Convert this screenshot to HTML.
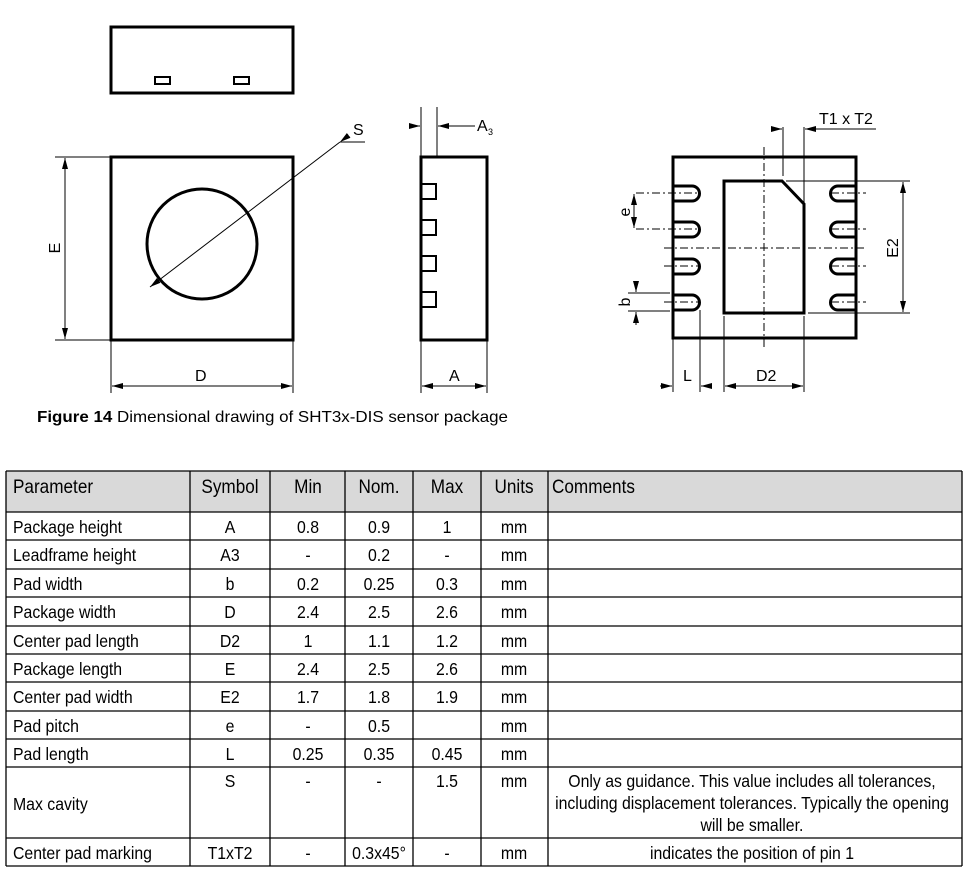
<!DOCTYPE html>
<html><head><meta charset="utf-8"><style>
html,body{margin:0;padding:0;background:#fff;}
svg{display:block;}
.t{font-family:"Liberation Sans",sans-serif;font-size:18px;fill:#000;transform-box:fill-box;transform:scaleX(.88);}
.h{font-size:19.5px;}
.l{transform-origin:left center;}
.c{transform-origin:center center;text-anchor:middle;}
.d{font-family:"Liberation Sans",sans-serif;font-size:16px;fill:#000;}
.th{stroke:#000;stroke-width:3;fill:none;}
.tn{stroke:#000;stroke-width:1;fill:none;}
.dd{stroke:#000;stroke-width:1;fill:none;stroke-dasharray:8,3,2,3;}
</style></head><body>
<svg width="968" height="880" viewBox="0 0 968 880" xmlns="http://www.w3.org/2000/svg">
<defs>
<marker id="a" markerWidth="12" markerHeight="8" refX="11" refY="4" orient="auto" markerUnits="userSpaceOnUse"><path d="M0,1 L11,4 L0,7 Z" fill="#000"/></marker>
</defs>
<rect class="th" x="111" y="27" width="182" height="66"/>
<rect x="155" y="77" width="15" height="7" fill="none" stroke="#000" stroke-width="2"/>
<rect x="234" y="77" width="15" height="7" fill="none" stroke="#000" stroke-width="2"/>
<rect class="th" x="111" y="157" width="182" height="183"/>
<circle class="th" cx="202" cy="244" r="55"/>
<line class="tn" x1="365" y1="142" x2="340" y2="142"/>
<line class="tn" x1="340" y1="142" x2="150" y2="287" marker-start="url(#a)" marker-end="url(#a)"/>
<text class="d" x="353" y="135">S</text>
<line class="tn" x1="55" y1="157" x2="111" y2="157"/>
<line class="tn" x1="55" y1="340" x2="111" y2="340"/>
<line class="tn" x1="65" y1="246" x2="65" y2="158" marker-end="url(#a)"/>
<line class="tn" x1="65" y1="246" x2="65" y2="339" marker-end="url(#a)"/>
<text class="d" transform="translate(60,248) rotate(-90)" text-anchor="middle">E</text>
<line class="tn" x1="111" y1="340" x2="111" y2="393"/>
<line class="tn" x1="293" y1="340" x2="293" y2="393"/>
<line class="tn" x1="202" y1="386" x2="112" y2="386" marker-end="url(#a)"/>
<line class="tn" x1="202" y1="386" x2="292" y2="386" marker-end="url(#a)"/>
<text class="d" x="195" y="381">D</text>
<rect class="th" x="421" y="157" width="66" height="183"/>
<rect x="421" y="184" width="15" height="15" fill="none" stroke="#000" stroke-width="2"/>
<rect x="421" y="220" width="15" height="15" fill="none" stroke="#000" stroke-width="2"/>
<rect x="421" y="256" width="15" height="15" fill="none" stroke="#000" stroke-width="2"/>
<rect x="421" y="292" width="15" height="15" fill="none" stroke="#000" stroke-width="2"/>
<line class="tn" x1="421" y1="107" x2="421" y2="157"/>
<line class="tn" x1="437" y1="107" x2="437" y2="157"/>
<line class="tn" x1="409" y1="126" x2="420" y2="126" marker-end="url(#a)"/>
<line class="tn" x1="475" y1="126" x2="438" y2="126" marker-end="url(#a)"/>
<text class="d" x="477" y="131">A</text><text class="d" x="488" y="135" style="font-size:9px">3</text>
<line class="tn" x1="421" y1="340" x2="421" y2="393"/>
<line class="tn" x1="487" y1="340" x2="487" y2="393"/>
<line class="tn" x1="454" y1="386" x2="422" y2="386" marker-end="url(#a)"/>
<line class="tn" x1="454" y1="386" x2="486" y2="386" marker-end="url(#a)"/>
<text class="d" x="449" y="381">A</text>
<rect class="th" x="673" y="157" width="183" height="181"/>
<path class="th" d="M724,181 H782 L804,204 V313 H724 Z"/>
<g class="th">
<path d="M673,186 H692 A7.5,7.5 0 0 1 692,201 H673"/>
<path d="M673,222 H692 A7.5,7.5 0 0 1 692,237 H673"/>
<path d="M673,259 H692 A7.5,7.5 0 0 1 692,274 H673"/>
<path d="M673,295 H692 A7.5,7.5 0 0 1 692,310 H673"/>
<path d="M856,186 H838 A7.5,7.5 0 0 0 838,201 H856"/>
<path d="M856,222 H838 A7.5,7.5 0 0 0 838,237 H856"/>
<path d="M856,259 H838 A7.5,7.5 0 0 0 838,274 H856"/>
<path d="M856,295 H838 A7.5,7.5 0 0 0 838,310 H856"/>
</g>
<line class="dd" x1="664" y1="248" x2="866" y2="248"/>
<line class="dd" x1="764" y1="147" x2="764" y2="348"/>
<g class="dd">
<line x1="636" y1="193" x2="700" y2="193"/><line x1="636" y1="229" x2="700" y2="229"/>
<line x1="664" y1="266" x2="700" y2="266"/><line x1="664" y1="302" x2="700" y2="302"/>
<line x1="831" y1="193" x2="866" y2="193"/><line x1="831" y1="229" x2="866" y2="229"/>
<line x1="831" y1="266" x2="866" y2="266"/><line x1="831" y1="302" x2="866" y2="302"/>
</g>
<line class="tn" x1="634" y1="211" x2="634" y2="194" marker-end="url(#a)"/>
<line class="tn" x1="634" y1="211" x2="634" y2="228" marker-end="url(#a)"/>
<text class="d" transform="translate(630,212) rotate(-90)" text-anchor="middle">e</text>
<line class="tn" x1="628" y1="293" x2="670" y2="293"/>
<line class="tn" x1="628" y1="311" x2="670" y2="311"/>
<line class="tn" x1="636" y1="281" x2="636" y2="292" marker-end="url(#a)"/>
<line class="tn" x1="636" y1="325" x2="636" y2="312" marker-end="url(#a)"/>
<text class="d" transform="translate(630,302) rotate(-90)" text-anchor="middle">b</text>
<line class="tn" x1="783" y1="127" x2="783" y2="176"/>
<line class="tn" x1="804" y1="127" x2="804" y2="203"/>
<line class="tn" x1="771" y1="129" x2="782" y2="129" marker-end="url(#a)"/>
<line class="tn" x1="876" y1="129" x2="805" y2="129" marker-end="url(#a)"/>
<text class="d" x="819" y="124">T1 x T2</text>
<line class="tn" x1="786" y1="181" x2="910" y2="181"/>
<line class="tn" x1="808" y1="313" x2="910" y2="313"/>
<line class="tn" x1="903" y1="247" x2="903" y2="182" marker-end="url(#a)"/>
<line class="tn" x1="903" y1="247" x2="903" y2="312" marker-end="url(#a)"/>
<text class="d" transform="translate(898,248) rotate(-90)" text-anchor="middle">E2</text>
<line class="tn" x1="673" y1="338" x2="673" y2="392"/>
<line class="tn" x1="700" y1="310" x2="700" y2="392"/>
<line class="tn" x1="724" y1="316" x2="724" y2="392"/>
<line class="tn" x1="804" y1="316" x2="804" y2="392"/>
<line class="tn" x1="660" y1="386" x2="672" y2="386" marker-end="url(#a)"/>
<line class="tn" x1="712" y1="386" x2="701" y2="386" marker-end="url(#a)"/>
<text class="d" x="683" y="381">L</text>
<line class="tn" x1="764" y1="386" x2="725" y2="386" marker-end="url(#a)"/>
<line class="tn" x1="764" y1="386" x2="803" y2="386" marker-end="url(#a)"/>
<text class="d" x="756" y="381">D2</text>
<text x="37" y="422" font-family="Liberation Sans,sans-serif" font-size="16" textLength="471" lengthAdjust="spacingAndGlyphs"><tspan font-weight="bold">Figure 14</tspan> Dimensional drawing of SHT3x-DIS sensor package</text>
<rect x="6" y="471" width="956" height="41" fill="#d9d9d9"/>
<g stroke="#000" stroke-width="1.3">
<line x1="6" y1="471" x2="962" y2="471"/>
<line x1="6" y1="512" x2="962" y2="512"/><line x1="6" y1="540" x2="962" y2="540"/>
<line x1="6" y1="569" x2="962" y2="569"/><line x1="6" y1="597" x2="962" y2="597"/>
<line x1="6" y1="626" x2="962" y2="626"/><line x1="6" y1="654" x2="962" y2="654"/>
<line x1="6" y1="682" x2="962" y2="682"/><line x1="6" y1="711" x2="962" y2="711"/>
<line x1="6" y1="739" x2="962" y2="739"/><line x1="6" y1="767" x2="962" y2="767"/>
<line x1="6" y1="838" x2="962" y2="838"/><line x1="6" y1="866" x2="962" y2="866"/>
<line x1="6" y1="471" x2="6" y2="866"/><line x1="962" y1="471" x2="962" y2="866"/>
<line x1="190" y1="471" x2="190" y2="866"/><line x1="270" y1="471" x2="270" y2="866"/>
<line x1="345" y1="471" x2="345" y2="866"/><line x1="413" y1="471" x2="413" y2="866"/>
<line x1="481" y1="471" x2="481" y2="866"/><line x1="548" y1="471" x2="548" y2="866"/>
</g>
<g>
<text class="t h l" x="13" y="493">Parameter</text>
<text class="t h c" x="230" y="493">Symbol</text><text class="t h c" x="308" y="493">Min</text>
<text class="t h c" x="379" y="493">Nom.</text><text class="t h c" x="447" y="493">Max</text>
<text class="t h c" x="514" y="493">Units</text><text class="t h l" x="552" y="493">Comments</text>

<text class="t l" x="13" y="533">Package height</text><text class="t c" x="230" y="533">A</text><text class="t c" x="308" y="533">0.8</text><text class="t c" x="379" y="533">0.9</text><text class="t c" x="447" y="533">1</text><text class="t c" x="514" y="533">mm</text>
<text class="t l" x="13" y="561">Leadframe height</text><text class="t c" x="230" y="561">A3</text><text class="t c" x="308" y="561">-</text><text class="t c" x="379" y="561">0.2</text><text class="t c" x="447" y="561">-</text><text class="t c" x="514" y="561">mm</text>
<text class="t l" x="13" y="590">Pad width</text><text class="t c" x="230" y="590">b</text><text class="t c" x="308" y="590">0.2</text><text class="t c" x="379" y="590">0.25</text><text class="t c" x="447" y="590">0.3</text><text class="t c" x="514" y="590">mm</text>
<text class="t l" x="13" y="618">Package width</text><text class="t c" x="230" y="618">D</text><text class="t c" x="308" y="618">2.4</text><text class="t c" x="379" y="618">2.5</text><text class="t c" x="447" y="618">2.6</text><text class="t c" x="514" y="618">mm</text>
<text class="t l" x="13" y="647">Center pad length</text><text class="t c" x="230" y="647">D2</text><text class="t c" x="308" y="647">1</text><text class="t c" x="379" y="647">1.1</text><text class="t c" x="447" y="647">1.2</text><text class="t c" x="514" y="647">mm</text>
<text class="t l" x="13" y="675">Package length</text><text class="t c" x="230" y="675">E</text><text class="t c" x="308" y="675">2.4</text><text class="t c" x="379" y="675">2.5</text><text class="t c" x="447" y="675">2.6</text><text class="t c" x="514" y="675">mm</text>
<text class="t l" x="13" y="703">Center pad width</text><text class="t c" x="230" y="703">E2</text><text class="t c" x="308" y="703">1.7</text><text class="t c" x="379" y="703">1.8</text><text class="t c" x="447" y="703">1.9</text><text class="t c" x="514" y="703">mm</text>
<text class="t l" x="13" y="732">Pad pitch</text><text class="t c" x="230" y="732">e</text><text class="t c" x="308" y="732">-</text><text class="t c" x="379" y="732">0.5</text><text class="t c" x="514" y="732">mm</text>
<text class="t l" x="13" y="760">Pad length</text><text class="t c" x="230" y="760">L</text><text class="t c" x="308" y="760">0.25</text><text class="t c" x="379" y="760">0.35</text><text class="t c" x="447" y="760">0.45</text><text class="t c" x="514" y="760">mm</text>
<text class="t l" x="13" y="810">Max cavity</text><text class="t c" x="230" y="787">S</text><text class="t c" x="308" y="787">-</text><text class="t c" x="379" y="787">-</text><text class="t c" x="447" y="787">1.5</text><text class="t c" x="514" y="787">mm</text>
<text class="t c" x="752" y="787">Only as guidance. This value includes all tolerances,</text>
<text class="t c" x="752" y="809">including displacement tolerances. Typically the opening</text>
<text class="t c" x="752" y="831">will be smaller.</text>
<text class="t l" x="13" y="859">Center pad marking</text><text class="t c" x="230" y="859">T1xT2</text><text class="t c" x="308" y="859">-</text><text class="t c" x="379" y="859">0.3x45°</text><text class="t c" x="447" y="859">-</text><text class="t c" x="514" y="859">mm</text>
<text class="t c" x="752" y="859">indicates the position of pin 1</text>
</g>
</svg>
</body></html>
